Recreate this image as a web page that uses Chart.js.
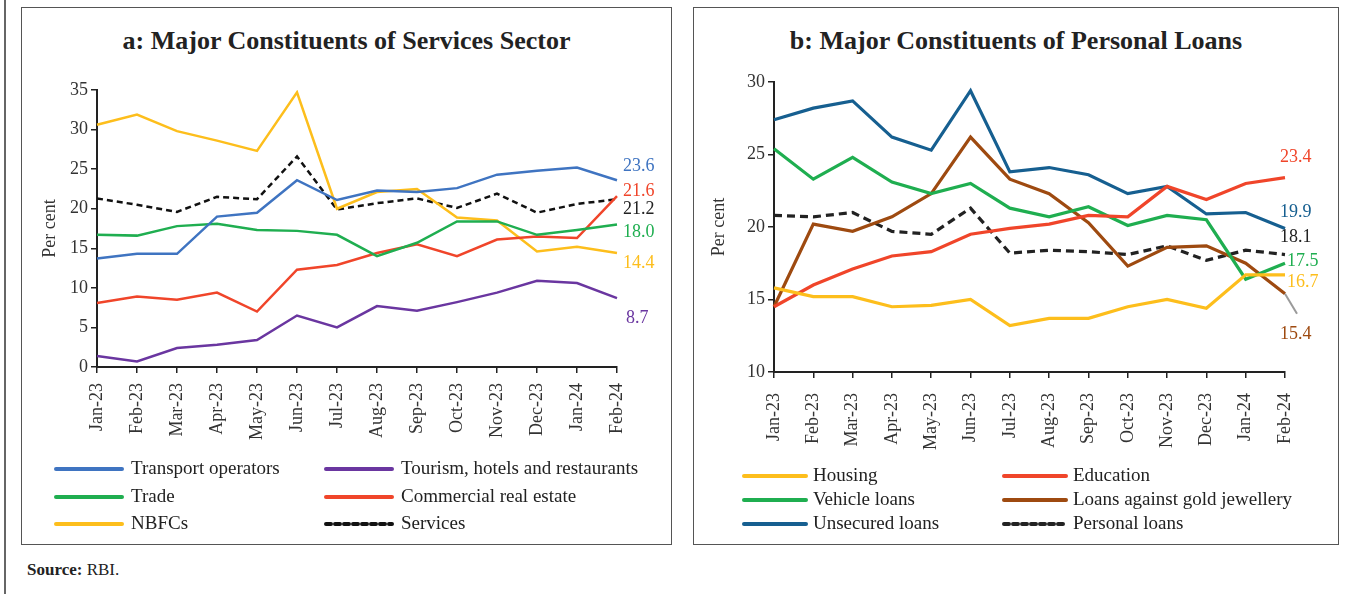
<!DOCTYPE html>
<html>
<head>
<meta charset="utf-8">
<script src="https://cdn.jsdelivr.net/npm/chart.js@4.4.1/dist/chart.umd.min.js"></script>
<style>
  html, body { margin:0; padding:0; background:#fff; }
  body { width:1350px; height:594px; position:relative; overflow:hidden; font-family:'Liberation Serif', serif; color:#222; }
  .outer { position:absolute; left:4px; top:0; width:2px; height:594px; background:#666; }
  .box { position:absolute; top:7px; height:538px; border:1.5px solid #555; box-sizing:border-box; }
  #boxA { left:21px; width:651px; }
  #boxB { left:693px; width:646px; }
  .title { position:absolute; top:26px; font-weight:bold; font-size:26px; text-align:center; color:#222; }
  #titleA { left:21px; width:651px; }
  #titleB { left:693px; width:646px; }
  canvas { position:absolute; }
  #chartA { left:21px; top:60px; }
  #chartB { left:693px; top:60px; }
  .source { position:absolute; left:27px; top:560px; font-size:17px; color:#222; }
</style>
</head>
<body>
<div class="outer"></div>
<div class="box" id="boxA"></div>
<div class="box" id="boxB"></div>
<div class="title" id="titleA">a: Major Constituents of Services Sector</div>
<div class="title" id="titleB">b: Major Constituents of Personal Loans</div>
<canvas id="chartA" width="650" height="486"></canvas>
<canvas id="chartB" width="645" height="486"></canvas>
<div class="source"><b>Source:</b> RBI.</div>
<script>
// ---- Data ----
const months = ['Jan-23','Feb-23','Mar-23','Apr-23','May-23','Jun-23','Jul-23','Aug-23','Sep-23','Oct-23','Nov-23','Dec-23','Jan-24','Feb-24'];

// Panel a: Major Constituents of Services Sector (per cent)
const transportOperators = [13.7,14.3,14.3,19.0,19.5,23.6,21.1,22.3,22.1,22.6,24.3,24.8,25.2,23.6];
const tourismHotels      = [1.4,0.7,2.4,2.8,3.4,6.5,5.0,7.7,7.1,8.2,9.4,10.9,10.6,8.7];
const trade              = [16.7,16.6,17.8,18.1,17.3,17.2,16.7,14.0,15.7,18.4,18.4,16.7,17.3,18.0];
const commercialRealEst  = [8.1,8.9,8.5,9.4,7.0,12.3,12.9,14.4,15.5,14.0,16.1,16.5,16.3,21.6];
const nbfcs              = [30.6,31.9,29.8,28.6,27.3,34.7,20.0,22.1,22.5,18.9,18.5,14.6,15.2,14.4];
const services           = [21.3,20.5,19.6,21.5,21.2,26.6,19.9,20.7,21.3,20.1,21.9,19.5,20.6,21.2];

// Panel b: Major Constituents of Personal Loans (per cent)
const housing        = [15.8,15.2,15.2,14.5,14.6,15.0,13.2,13.7,13.7,14.5,15.0,14.4,16.7,16.7];
const education      = [14.5,16.0,17.1,18.0,18.3,19.5,19.9,20.2,20.8,20.7,22.8,21.9,23.0,23.4];
const vehicleLoans   = [25.4,23.3,24.8,23.1,22.3,23.0,21.3,20.7,21.4,20.1,20.8,20.5,16.4,17.5];
const goldLoans      = [14.5,20.2,19.7,20.7,22.3,26.2,23.3,22.3,20.3,17.3,18.6,18.7,17.5,15.4];
const unsecuredLoans = [27.4,28.2,28.7,26.2,25.3,29.4,23.8,24.1,23.6,22.3,22.8,20.9,21.0,19.9];
const personalLoans  = [20.8,20.7,21.0,19.7,19.5,21.3,18.2,18.4,18.3,18.1,18.7,17.7,18.4,18.1];

const yTicksA = [0,5,10,15,20,25,30,35];
const yTicksB = [10,15,20,25,30];

// ---- Styling ----
const FONT = "'Liberation Serif', serif";
Chart.defaults.font.family = FONT;
Chart.defaults.color = '#333';

const C = {
  blue:'#3F74C1', purple:'#6A36A0', green:'#1FAE50', red:'#F0452A', yellow:'#FDBE1C',
  black:'#111', brown:'#9E4A10', navy:'#165F90'
};

function ds(label, data, color, width, dash) {
  return { label, data, borderColor: color, backgroundColor: color, borderWidth: width,
           borderDash: dash || [], pointRadius: 0, pointHoverRadius: 0, tension: 0, fill: false };
}

// plugin: end-of-line value labels + custom two-column legend
const decorPlugin = {
  id: 'decor',
  afterDatasetsDraw(chart, args, opts) {
    const ctx = chart.ctx;
    const area = chart.chartArea;
    ctx.save();
    (opts.leaders || []).forEach(l => {
      const meta = chart.getDatasetMeta(l.index);
      const pt = meta.data[meta.data.length - 1];
      ctx.strokeStyle = l.color; ctx.lineWidth = l.width;
      ctx.setLineDash([]);
      ctx.beginPath(); ctx.moveTo(pt.x, pt.y); ctx.lineTo(pt.x + l.dx, pt.y + l.dy); ctx.stroke();
    });
    ctx.font = '18px ' + FONT;
    ctx.textAlign = 'left';
    ctx.textBaseline = 'middle';
    (opts.endLabels || []).forEach(e => {
      const d = chart.data.datasets[e.index];
      const meta = chart.getDatasetMeta(e.index);
      const pt = meta.data[meta.data.length - 1];
      const v = d.data[d.data.length - 1];
      ctx.fillStyle = e.color || d.borderColor;
      ctx.fillText(v.toFixed(1), area.right + e.dx, pt.y + e.dy);
    });
    const L = opts.legend;
    if (L) {
      ctx.font = '19px ' + FONT;
      chart.data.datasets.forEach((d, i) => {
        const col = L.cols[i % 2];
        const y = L.rows[Math.floor(i / 2)];
        ctx.strokeStyle = d.borderColor;
        ctx.lineWidth = 4;
        ctx.lineCap = 'round';
        ctx.setLineDash(d.borderDash && d.borderDash.length ? [5, 4] : []);
        ctx.beginPath(); ctx.moveTo(col.x0, y); ctx.lineTo(col.x1, y); ctx.stroke();
        ctx.setLineDash([]);
        ctx.fillStyle = '#222';
        ctx.fillText(d.label, col.tx, y);
      });
    }
    ctx.restore();
  }
};

function axisX(tickPad, xh) {
  return {
    type: 'category', offset: false,
    grid: { display: true, drawOnChartArea: false, drawTicks: true, tickLength: 6, color: '#222', lineWidth: 1.5 },
    border: { display: true, color: '#222', width: 2 },
    ticks: { minRotation: 90, maxRotation: 90, autoSkip: false, padding: tickPad, color: '#333', font: { size: 18 } },
    afterFit(s) { s.height = xh; }
  };
}
function axisY(min, max, ticks, yw, titlePad) {
  return {
    min, max,
    afterBuildTicks(s) { s.ticks = ticks.map(v => ({ value: v })); },
    grid: { display: true, drawOnChartArea: false, drawTicks: true, tickLength: 6, color: '#222', lineWidth: 1.5 },
    border: { display: true, color: '#222', width: 2 },
    ticks: { padding: 3, color: '#333', font: { size: 18 } },
    title: { display: true, text: 'Per cent', color: '#333', font: { size: 18 }, padding: { top: titlePad, bottom: 0 } },
    afterFit(s) { s.width = yw; }
  };
}

// ---- Chart a ----
new Chart(document.getElementById('chartA'), {
  type: 'line',
  data: {
    labels: months,
    datasets: [
      ds('Transport operators', transportOperators, C.blue, 2.5),
      ds('Tourism, hotels and restaurants', tourismHotels, C.purple, 2.5),
      ds('Trade', trade, C.green, 2.5),
      ds('Commercial real estate', commercialRealEst, C.red, 2.5),
      ds('NBFCs', nbfcs, C.yellow, 2.5),
      ds('Services', services, C.black, 2.5, [6, 4])
    ]
  },
  options: {
    responsive: false, animation: false,
    layout: { padding: { left: 16, right: 54, top: 30, bottom: 89 } },
    plugins: {
      legend: { display: false }, tooltip: { enabled: false },
      decor: {
        endLabels: [
          { index: 0, dx: 6, dy: -14 },
          { index: 3, dx: 6, dy: -5 },
          { index: 5, dx: 6, dy: 10, color: '#222' },
          { index: 2, dx: 6, dy: 8 },
          { index: 4, dx: 6, dy: 10 },
          { index: 1, dx: 9, dy: 20 }
        ],
        legend: {
          cols: [ { x0: 35, x1: 101, tx: 110 }, { x0: 305, x1: 371, tx: 380 } ],
          rows: [409, 437, 464]
        }
      }
    },
    scales: { x: axisX(10, 90), y: axisY(0, 35, yTicksA, 60, 2) }
  },
  plugins: [decorPlugin]
});

// ---- Chart b ----
new Chart(document.getElementById('chartB'), {
  type: 'line',
  data: {
    labels: months,
    datasets: [
      ds('Housing', housing, C.yellow, 3.2),
      ds('Education', education, C.red, 3.2),
      ds('Vehicle loans', vehicleLoans, C.green, 3.2),
      ds('Loans against gold jewellery', goldLoans, C.brown, 3.2),
      ds('Unsecured loans', unsecuredLoans, C.navy, 3.2),
      ds('Personal loans', personalLoans, '#222', 3.2, [8, 5])
    ]
  },
  options: {
    responsive: false, animation: false,
    layout: { padding: { left: 15, right: 53, top: 22, bottom: 84 } },
    plugins: {
      legend: { display: false }, tooltip: { enabled: false },
      decor: {
        leaders: [ { index: 3, dx: 12, dy: 20, color: '#9a9a9a', width: 2 } ],
        endLabels: [
          { index: 1, dx: -5, dy: -20 },
          { index: 4, dx: -5, dy: -16 },
          { index: 5, dx: -5, dy: -17, color: '#222' },
          { index: 2, dx: 2, dy: -2 },
          { index: 0, dx: 2, dy: 7 },
          { index: 3, dx: -5, dy: 41 }
        ],
        legend: {
          cols: [ { x0: 51, x1: 113, tx: 120 }, { x0: 311, x1: 373, tx: 380 } ],
          rows: [416, 440, 464]
        }
      }
    },
    scales: { x: axisX(15, 90), y: axisY(10, 30, yTicksB, 66, 0) }
  },
  plugins: [decorPlugin]
});
</script>
</body>
</html>
